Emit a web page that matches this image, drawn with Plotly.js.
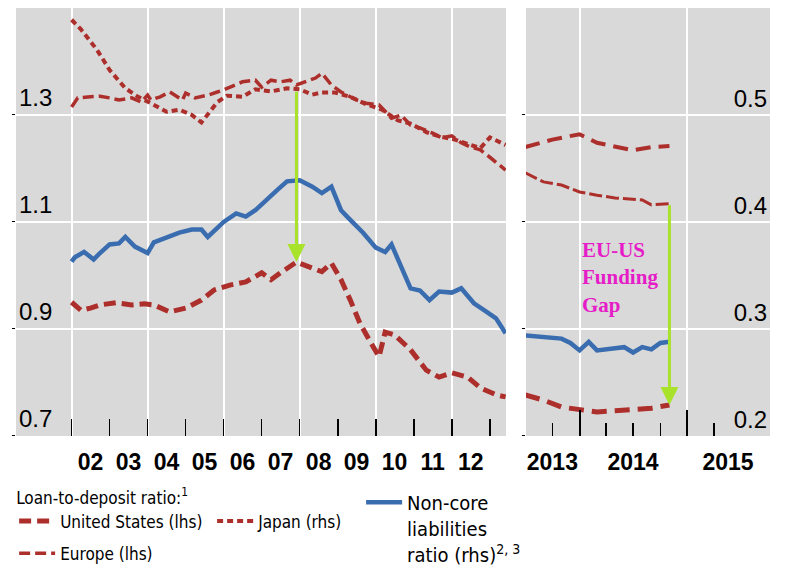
<!DOCTYPE html>
<html>
<head>
<meta charset="utf-8">
<script src="https://cdn.plot.ly/plotly-3.0.1.min.js"></script>
<style>
  html, body { margin: 0; padding: 0; background: #fff; }
  #chart { width: 785px; height: 578px; }
</style>
</head>
<body>
<div id="chart"></div>
<script>
// left panel, 2002-2013 (lhs = loan-to-deposit, rhs = non-core ratio)
const usLeftDates = ['2002-01','2002-04','2002-07','2002-10','2003-03','2003-08','2003-12','2004-03','2004-08','2005-01','2005-06','2005-10','2006-03','2006-08','2007-01','2007-04','2007-07','2007-12','2008-05','2008-08','2008-11','2009-02','2009-05','2009-08','2009-11','2010-02','2010-04','2010-07','2010-12','2011-05','2011-09','2012-01','2012-06','2012-10','2013-03','2013-06'];
const usLeft = [0.950,0.935,0.939,0.945,0.949,0.945,0.947,0.945,0.932,0.939,0.954,0.973,0.982,0.988,1.005,0.992,1.005,1.025,1.014,1.007,1.023,0.992,0.954,0.911,0.879,0.848,0.894,0.889,0.861,0.823,0.810,0.818,0.810,0.790,0.777,0.773];

const euLeftDates = ['2002-01','2002-03','2002-07','2002-10','2003-01','2003-04','2003-08','2003-11','2004-01','2004-02','2004-05','2004-08','2004-12','2005-01','2005-04','2005-08','2005-11','2006-01','2006-07','2006-11','2007-01','2007-04','2007-07','2007-10','2007-12','2008-03','2008-06','2008-08','2008-11','2009-02','2009-07','2009-10','2010-02','2010-06','2010-09','2010-12','2011-03','2011-07','2011-10','2012-01','2012-04','2012-07','2012-10','2013-01','2013-04','2013-06'];
const euLeft = [1.315,1.332,1.334,1.335,1.332,1.328,1.332,1.324,1.337,1.328,1.334,1.343,1.328,1.341,1.332,1.337,1.343,1.347,1.362,1.365,1.352,1.365,1.362,1.365,1.356,1.362,1.369,1.378,1.356,1.343,1.328,1.322,1.319,1.294,1.300,1.281,1.276,1.266,1.257,1.261,1.248,1.240,1.235,1.221,1.206,1.197];

const jpLeftDates = ['2002-01','2002-04','2002-09','2003-01','2003-06','2003-10','2004-02','2004-07','2004-11','2005-03','2005-06','2005-08','2005-11','2006-02','2006-07','2006-11','2007-04','2007-09','2008-01','2008-05','2008-08','2008-12','2009-05','2009-10','2010-03','2010-08','2010-12','2011-05','2011-09','2012-02','2012-07','2012-10','2013-01','2013-04','2013-06'];
const jpLeft = [0.589,0.580,0.561,0.542,0.525,0.517,0.511,0.503,0.505,0.500,0.493,0.500,0.512,0.518,0.517,0.524,0.522,0.525,0.524,0.519,0.521,0.521,0.517,0.510,0.505,0.495,0.492,0.484,0.480,0.477,0.472,0.469,0.479,0.475,0.472];

const ncLeftDates = ['2002-01','2002-02','2002-05','2002-08','2002-10','2003-01','2003-04','2003-06','2003-09','2004-01','2004-03','2004-07','2004-11','2005-03','2005-06','2005-08','2005-11','2006-01','2006-05','2006-08','2006-11','2007-03','2007-06','2007-09','2008-01','2008-05','2008-08','2008-11','2009-02','2009-05','2009-09','2010-01','2010-04','2010-06','2010-09','2010-12','2011-03','2011-06','2011-09','2012-01','2012-04','2012-08','2012-12','2013-03','2013-06'];
const ncLeft = [0.363,0.367,0.372,0.365,0.371,0.379,0.380,0.386,0.377,0.371,0.381,0.386,0.390,0.393,0.393,0.386,0.395,0.400,0.408,0.405,0.411,0.421,0.430,0.438,0.439,0.433,0.427,0.433,0.411,0.402,0.390,0.376,0.372,0.379,0.358,0.338,0.336,0.327,0.335,0.334,0.338,0.324,0.316,0.310,0.296];

// right panel, mid-2013 onwards
const usRightDates = ['2013-07','2013-09','2013-11','2014-01','2014-03','2014-05','2014-07','2014-09','2014-11'];
const usRight = [0.777,0.767,0.754,0.749,0.745,0.747,0.750,0.752,0.758];

const euRightDates = ['2013-07','2013-09','2013-11','2014-01','2014-03','2014-05','2014-08','2014-09','2014-11'];
const euRight = [1.192,1.175,1.169,1.156,1.150,1.145,1.141,1.132,1.134];

const jpRightDates = ['2013-07','2013-10','2014-01','2014-03','2014-07','2014-09','2014-11'];
const jpRight = [0.470,0.477,0.482,0.474,0.467,0.470,0.471];

const ncRightDates = ['2013-07','2013-09','2013-11','2013-12','2014-01','2014-02','2014-03','2014-05','2014-06','2014-07','2014-08','2014-09','2014-10','2014-11'];
const ncRight = [0.294,0.292,0.291,0.287,0.280,0.288,0.280,0.282,0.283,0.278,0.283,0.281,0.287,0.288];

// axis ticks and labels
const leftGridYears = ['2002-01-01','2004-01-01','2006-01-01','2008-01-01','2010-01-01','2012-01-01'];
const leftOddYears = ['2003-01-01','2005-01-01','2007-01-01','2009-01-01','2011-01-01','2013-01-01'];
const leftLabelDates = ['2002-07-01','2003-07-01','2004-07-01','2005-07-01','2006-07-01','2007-07-01','2008-07-01','2009-07-01','2010-07-01','2011-07-01','2012-07-01'];
const leftLabels = ['02','03','04','05','06','07','08','09','10','11','12'];
const rightGridYears = ['2014-01-01','2015-01-01'];
const rightQuarters = ['2013-10-01','2014-04-01','2014-07-01','2014-10-01','2015-04-01','2015-07-01'];
const rightLabelDates = ['2013-10-01','2014-07-01','2015-05-18'];
const rightLabels = ['2013','2014','2015'];
const lhsTicks = [0.7, 0.9, 1.1, 1.3];
const rhsTicks = [0.2, 0.3, 0.4, 0.5];

const gapDateIdx = usLeftDates.indexOf('2007-12');
const gapEuIdx = euLeftDates.indexOf('2007-12');

const RED = '#ad2f2c';
const BLUE = '#3a6db0';
const GREEN = '#a8e22a';
const GRID = '#ffffff';
const BG = '#d9d9d9';

const legFamily = '"DejaVu Sans Condensed", "Liberation Sans", sans-serif';
const legendFont = {family: legFamily, size: 17, color: '#000'};
const legendFont3 = {family: legFamily, size: 20, color: '#000'};

var data = [
  {x: usLeftDates, y: usLeft, xaxis: 'x', yaxis: 'y', type: 'scatter', mode: 'lines',
   name: 'United States (lhs)', legend: 'legend', line: {color: RED, width: 5, dash: '12px,6px'}},
  {x: jpLeftDates, y: jpLeft, xaxis: 'x', yaxis: 'y2', type: 'scatter', mode: 'lines',
   name: 'Japan (rhs)', legend: 'legend', line: {color: RED, width: 4, dash: '6px,4px'}},
  {x: euLeftDates, y: euLeft, xaxis: 'x', yaxis: 'y', type: 'scatter', mode: 'lines',
   name: 'Europe (lhs)', legend: 'legend2', line: {color: RED, width: 3.5, dash: '11px,5px'}},
  {x: ncLeftDates, y: ncLeft, xaxis: 'x', yaxis: 'y2', type: 'scatter', mode: 'lines',
   name: 'Non-core<br>liabilities<br>ratio (rhs)<sup>2, 3</sup>', legend: 'legend3',
   line: {color: BLUE, width: 4.5}},

  {x: usRightDates, y: usRight, xaxis: 'x2', yaxis: 'y3', type: 'scatter', mode: 'lines',
   showlegend: false, line: {color: RED, width: 5, dash: '15px,8px'}},
  {x: euRightDates, y: euRight, xaxis: 'x2', yaxis: 'y3', type: 'scatter', mode: 'lines',
   showlegend: false, line: {color: RED, width: 3, dash: '13px,4px'}},
  {x: jpRightDates, y: jpRight, xaxis: 'x2', yaxis: 'y4', type: 'scatter', mode: 'lines',
   showlegend: false, line: {color: RED, width: 4, dash: '15px,8px'}},
  {x: ncRightDates, y: ncRight, xaxis: 'x2', yaxis: 'y4', type: 'scatter', mode: 'lines',
   showlegend: false, line: {color: BLUE, width: 4.5}},

  // empty carriers so that the label-only axes get drawn
  {x: leftLabelDates, y: leftLabels.map(() => null), xaxis: 'x3', yaxis: 'y', type: 'scatter', mode: 'lines',
   showlegend: false, hoverinfo: 'skip'},
  {x: rightLabelDates, y: rightLabels.map(() => null), xaxis: 'x4', yaxis: 'y3', type: 'scatter', mode: 'lines',
   showlegend: false, hoverinfo: 'skip'}
];

const tickLblFont = {family: '"Liberation Sans", Arial, sans-serif', size: 24, color: '#000'};
const xLblFont = {family: '"Liberation Sans", Arial, sans-serif', size: 23, color: '#000', weight: 'bold'};

const yDom = [0.2457, 0.9862];

var layout = {
  width: 785, height: 578,
  margin: {l: 0, r: 0, t: 0, b: 0},
  paper_bgcolor: '#fff',
  plot_bgcolor: BG,
  font: {family: '"Liberation Sans", Arial, sans-serif', color: '#000'},
  xaxis: {
    domain: [0.0204, 0.6446], anchor: 'y', type: 'date',
    range: ['2000-07-16', '2013-06-05'],
    tickmode: 'array', tickvals: leftGridYears, ticks: 'inside', ticklen: 17, tickwidth: 1.5, tickcolor: '#000',
    showticklabels: false, showgrid: true, gridcolor: GRID, gridwidth: 2, zeroline: false, showline: false,
    minor: {tickmode: 'array', tickvals: leftOddYears, ticks: 'inside', ticklen: 17, tickwidth: 1.5, tickcolor: '#000', showgrid: false}
  },
  xaxis3: {
    overlaying: 'x', anchor: 'y', side: 'bottom', type: 'date',
    range: ['2000-07-16', '2013-06-05'],
    tickmode: 'array', tickvals: leftLabelDates, ticktext: leftLabels,
    ticks: '', showgrid: false, zeroline: false, showline: false,
    tickfont: xLblFont, ticklabelstandoff: 10
  },
  xaxis2: {
    domain: [0.6701, 0.9809], anchor: 'y3', type: 'date',
    range: ['2013-07-04', '2015-10-07'],
    tickmode: 'array', tickvals: rightGridYears, ticks: 'inside', ticklen: 26, tickwidth: 2, tickcolor: '#000',
    showticklabels: false, showgrid: true, gridcolor: GRID, gridwidth: 2, zeroline: false, showline: false,
    minor: {tickmode: 'array', tickvals: rightQuarters, ticks: 'inside', ticklen: 13, tickwidth: 1.5, tickcolor: '#000', showgrid: false}
  },
  xaxis4: {
    overlaying: 'x2', anchor: 'y3', side: 'bottom', type: 'date',
    range: ['2013-07-04', '2015-10-07'],
    tickmode: 'array', tickvals: rightLabelDates, ticktext: rightLabels,
    ticks: '', showgrid: false, zeroline: false, showline: false,
    tickfont: xLblFont, ticklabelstandoff: 10
  },
  yaxis: {
    domain: yDom, anchor: 'x', range: [0.7, 1.5],
    tickmode: 'array', tickvals: lhsTicks, tickformat: '.1f',
    ticklabelposition: 'inside top', tickfont: tickLblFont,
    ticks: 'outside', ticklen: 3, tickcolor: '#000',
    showgrid: true, gridcolor: GRID, gridwidth: 2, zeroline: false, showline: false
  },
  yaxis2: {
    overlaying: 'y', anchor: 'x', side: 'right', range: [0.2, 0.6],
    showticklabels: false, ticks: '', showgrid: false, zeroline: false, showline: false
  },
  yaxis3: {
    domain: yDom, anchor: 'x2', range: [0.7, 1.5],
    tickmode: 'array', tickvals: lhsTicks, showticklabels: false,
    ticks: 'outside', ticklen: 3, tickcolor: '#000',
    showgrid: true, gridcolor: GRID, gridwidth: 2, zeroline: false, showline: false
  },
  yaxis4: {
    overlaying: 'y3', anchor: 'x2', side: 'right', range: [0.2, 0.6],
    tickmode: 'array', tickvals: rhsTicks, tickformat: '.1f',
    ticklabelposition: 'inside top', tickfont: tickLblFont, ticks: '',
    showgrid: false, zeroline: false, showline: false
  },
  showlegend: true,
  legend: {
    orientation: 'h', x: 0.018, y: 0.167, xanchor: 'left', yanchor: 'top',
    bgcolor: 'rgba(0,0,0,0)', font: legendFont, itemwidth: 36,
    entrywidth: 147, tracegroupgap: 0,
    title: {text: 'Loan-to-deposit ratio:<sup>1</sup>', side: 'top', font: legendFont}
  },
  legend2: {
    orientation: 'h', x: 0.018, y: 0.073, xanchor: 'left', yanchor: 'top',
    bgcolor: 'rgba(0,0,0,0)', font: legendFont, itemwidth: 36
  },
  legend3: {
    orientation: 'v', x: 0.46, y: 0.165, xanchor: 'left', yanchor: 'top', valign: 'top',
    bgcolor: 'rgba(0,0,0,0)', font: legendFont3, itemwidth: 36
  },
  annotations: [
    {xref: 'x', yref: 'y', axref: 'x', ayref: 'y',
     x: usLeftDates[gapDateIdx], y: usLeft[gapDateIdx],
     ax: euLeftDates[gapEuIdx], ay: euLeft[gapEuIdx] - 0.01,
     text: '', showarrow: true, arrowhead: 2, arrowsize: 1.2, arrowwidth: 3, arrowcolor: GREEN, standoff: 0},
    {xref: 'x2', yref: 'y3', axref: 'x2', ayref: 'y3',
     x: usRightDates[usRightDates.length - 1], y: usRight[usRight.length - 1],
     ax: euRightDates[euRightDates.length - 1], ay: euRight[euRight.length - 1],
     text: '', showarrow: true, arrowhead: 2, arrowsize: 1.2, arrowwidth: 3, arrowcolor: GREEN, standoff: 0},
    {xref: 'x2', yref: 'y3', x: '2014-01-01', y: 0.997, xanchor: 'left', yanchor: 'middle', align: 'left',
     showarrow: false, text: '<b>EU-US<br>Funding<br>Gap</b>',
     font: {family: '"Liberation Serif", "Times New Roman", serif', size: 21, color: '#e61cc8'}}
  ]
};

Plotly.newPlot('chart', data, layout, {displayModeBar: false, staticPlot: true});
</script>
</body>
</html>
